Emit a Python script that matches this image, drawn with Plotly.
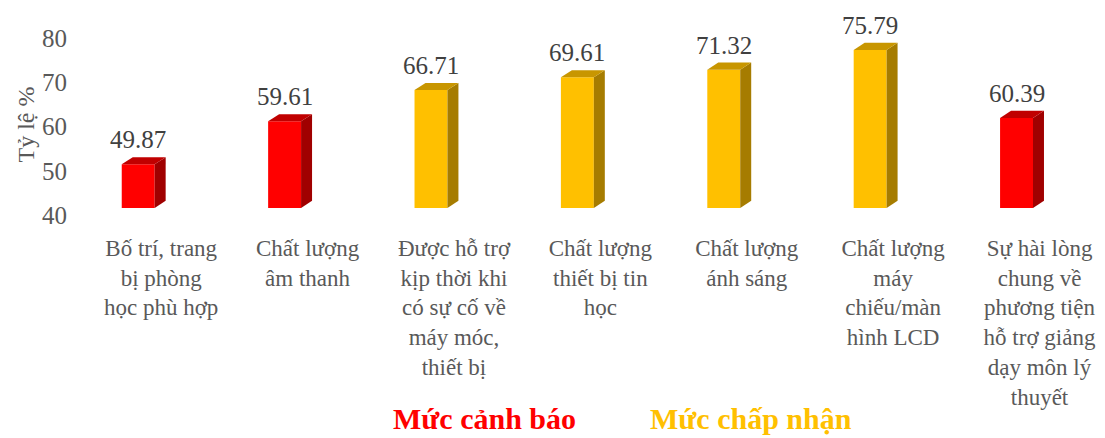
import plotly.graph_objects as go

# Data
categories = [
    "Bố trí, trang<br>bị phòng<br>học phù hợp",
    "Chất lượng<br>âm thanh",
    "Được hỗ trợ<br>kịp thời khi<br>có sự cố về<br>máy móc,<br>thiết bị",
    "Chất lượng<br>thiết bị tin<br>học",
    "Chất lượng<br>ánh sáng",
    "Chất lượng<br>máy<br>chiếu/màn<br>hình LCD",
    "Sự hài lòng<br>chung về<br>phương tiện<br>hỗ trợ giảng<br>dạy môn lý<br>thuyết",
]
values = [49.87, 59.61, 66.71, 69.61, 71.32, 75.79, 60.39]
levels = ["warn", "warn", "ok", "ok", "ok", "ok", "warn"]

LEVEL_NAMES = {"warn": "Mức cảnh báo", "ok": "Mức chấp nhận"}
# front, side, top faces
LEVEL_COLORS = {
    "warn": ("#FF0000", "#A00000", "#C00000"),
    "ok": ("#FFC000", "#A67C00", "#C89600"),
}

BASE = 40
FONT = "Liberation Serif, Times New Roman, serif"

# fake 3D column geometry (data units)
OFFSET = 0.157   # front face centre left of category centre
WIDTH = 0.225
DX = 0.075
DY = 1.6

fig = go.Figure()

for i, (v, lv) in enumerate(zip(values, levels)):
    front, side, top = LEVEL_COLORS[lv]
    xc = i - OFFSET
    xl, xr = xc - WIDTH / 2, xc + WIDTH / 2
    y0, y1 = BASE + DY, v + DY

    fig.add_trace(go.Bar(
        x=[xc], y=[v - BASE], base=[y0], width=[WIDTH],
        marker_color=front, marker_line_width=0,
        showlegend=False, hoverinfo="skip"
    ))
    # side face
    fig.add_trace(go.Scatter(
        x=[xr, xr + DX, xr + DX, xr, xr],
        y=[y0, y0 + DY, y1 + DY, y1, y0],
        fill="toself", fillcolor=side, mode="lines", line_width=0,
        showlegend=False, hoverinfo="skip"
    ))
    # top face
    fig.add_trace(go.Scatter(
        x=[xl, xr, xr + DX, xl + DX, xl],
        y=[y1, y1, y1 + DY, y1 + DY, y1],
        fill="toself", fillcolor=top, mode="lines", line_width=0,
        showlegend=False, hoverinfo="skip"
    ))
    fig.add_annotation(
        x=xc, y=y1 + DY, text=f"{v:.2f}", showarrow=False,
        yanchor="bottom", yshift=2,
        font=dict(family=FONT, size=25, color="#404040")
    )

# legend-like labels
for name, xpos in [("warn", 0.391), ("ok", 0.654)]:
    fig.add_annotation(
        x=xpos, y=-1.122, xref="paper", yref="paper",
        xanchor="center", yanchor="middle", borderpad=0,
        text=f"<b>{LEVEL_NAMES[name]}</b>", showarrow=False,
        font=dict(family=FONT, size=30, color=LEVEL_COLORS[name][0])
    )

# page body has an 8px margin, so the figure is slightly smaller than the window
fig.update_layout(
    width=1097, height=430,
    margin=dict(l=80, r=4, t=26, b=223),
    plot_bgcolor="white", paper_bgcolor="white",
    showlegend=False,
    font=dict(family=FONT, color="#595959"),
    xaxis=dict(
        range=[-0.5, 6.42], automargin=False,
        tickmode="array", tickvals=list(range(len(categories))),
        ticktext=categories,
        tickfont=dict(size=23, color="#595959"),
        ticks="outside", ticklen=12, tickcolor="white",
        showgrid=False, zeroline=False, showline=False,
    ),
    yaxis=dict(
        range=[40, 81], automargin=False,
        tickvals=[40, 50, 60, 70, 80],
        tickfont=dict(size=25, color="#595959"),
        ticks="outside", ticklen=15, tickcolor="white",
        showgrid=False, zeroline=False, showline=False,
        title=dict(text="Tỷ lệ %", standoff=0,
                   font=dict(size=24, color="#595959")),
    ),
)

fig.write_html("out.html")
